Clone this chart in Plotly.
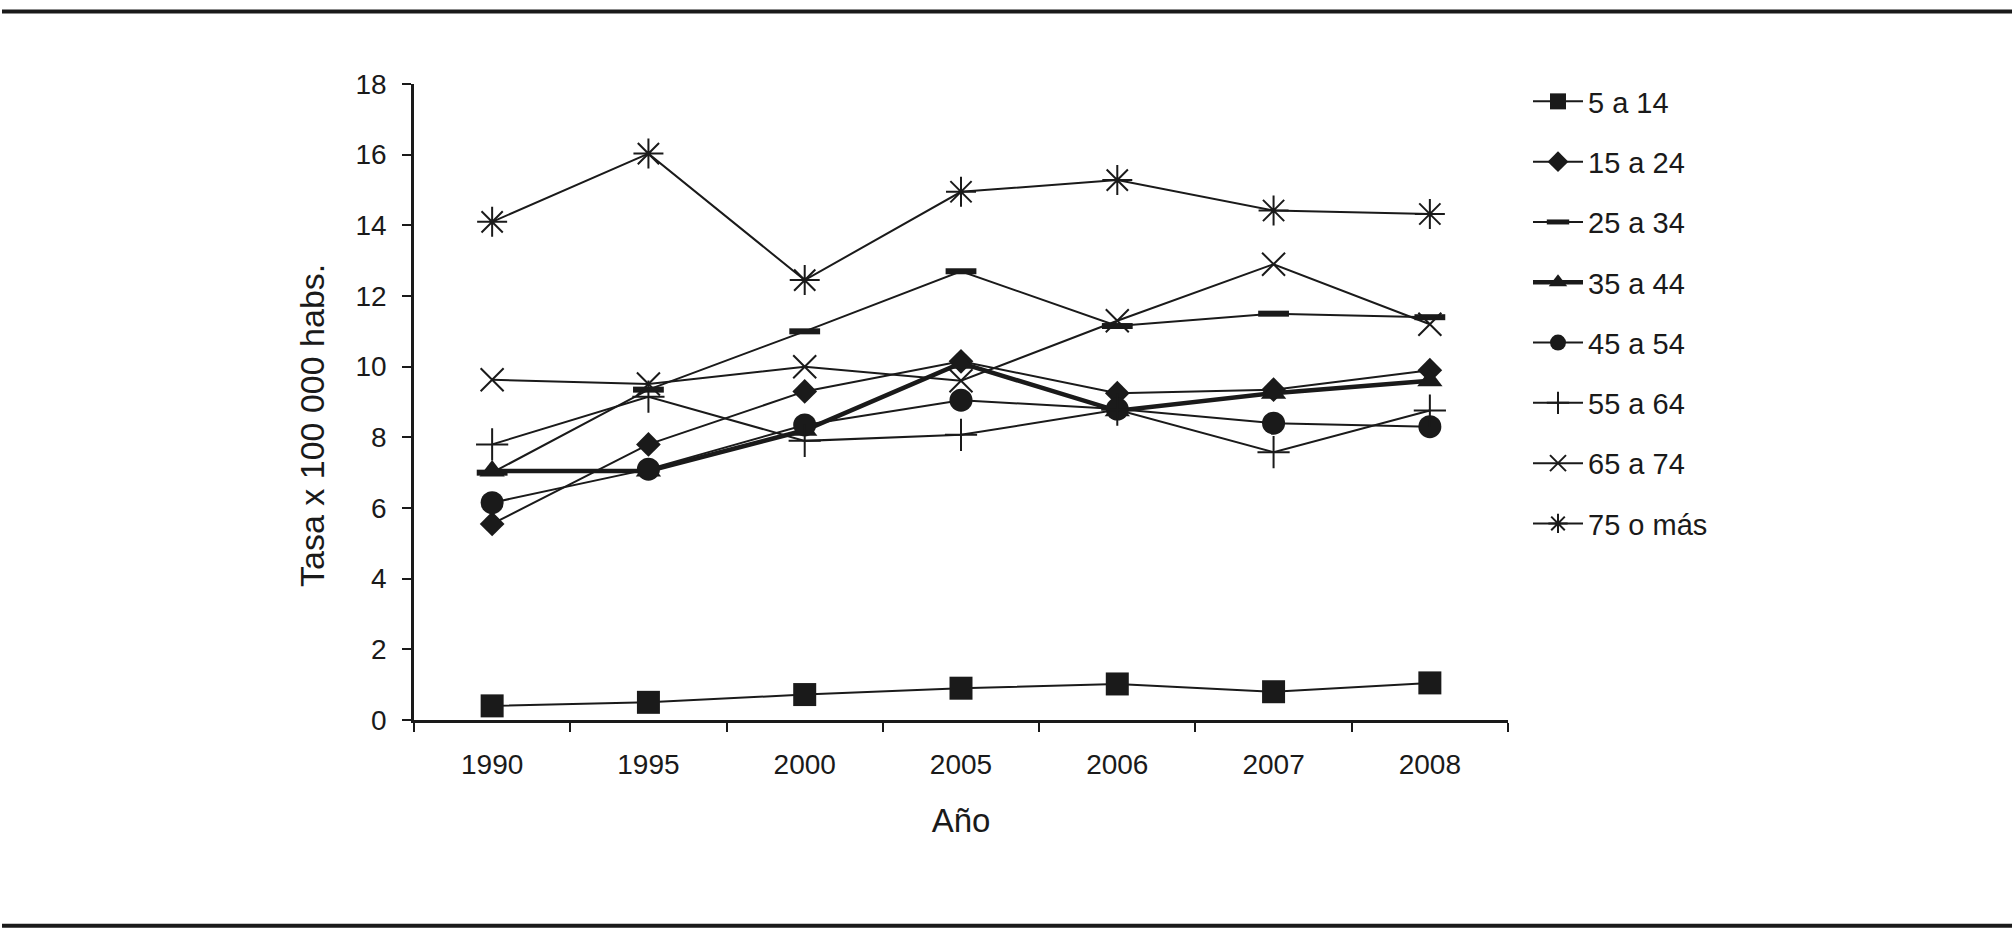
import plotly.graph_objects as go

years = ["1990", "1995", "2000", "2005", "2006", "2007", "2008"]
series_names = ["5 a 14", "15 a 24", "25 a 34", "35 a 44", "45 a 54", "55 a 64", "65 a 74", "75 o más"]
s5_14 = [0.4, 0.5, 0.72, 0.9, 1.02, 0.8, 1.05]
s15_24 = [5.55, 7.8, 9.3, 10.15, 9.25, 9.35, 9.9]
s25_34 = [7.0, 9.35, 11.0, 12.7, 11.15, 11.5, 11.4]
s35_44 = [7.05, 7.05, 8.2, 10.1, 8.75, 9.25, 9.6]
s45_54 = [6.15, 7.1, 8.35, 9.05, 8.8, 8.4, 8.3]
s55_64 = [7.8, 9.15, 7.9, 8.07, 8.78, 7.58, 8.76]
s65_74 = [9.63, 9.51, 10.0, 9.6, 11.3, 12.9, 11.2]
s75_mas = [14.1, 16.03, 12.45, 14.95, 15.28, 14.42, 14.32]
values = [s5_14, s15_24, s25_34, s35_44, s45_54, s55_64, s65_74, s75_mas]

styles = [
    dict(symbol="square", size=23, mlw=0, lw=2),
    dict(symbol="diamond", size=19, mlw=0, lw=2),
    dict(symbol="line-ew", size=22, mlw=6, lw=2),
    dict(symbol="triangle-up", size=22, mlw=0, lw=4.5),
    dict(symbol="circle", size=23, mlw=0, lw=2),
    dict(symbol="cross-thin", size=23, mlw=2, lw=2),
    dict(symbol="x-thin", size=23, mlw=2, lw=2),
    dict(symbol="asterisk", size=25, mlw=2, lw=2),
]

FONT = "Liberation Sans, Arial, Helvetica, sans-serif"
INK = "#1a1a1a"

fig = go.Figure()
for name, vals, st in zip(series_names, values, styles):
    fig.add_trace(go.Scatter(
        x=years, y=vals, name=name, mode="lines+markers",
        legendgroup=name,
        line=dict(color=INK, width=st["lw"]),
        marker=dict(symbol=st["symbol"], size=st["size"], color=INK,
                    line=dict(color=INK, width=st["mlw"])),
    ))

L, R, T, B = 414, 1508, 83.5, 720.5
W, H = 2014, 938
pw, ph = R - L, B - T

def px(xp):
    return (xp - L) / pw

def py(yp):
    return (B - yp) / ph

fig.update_layout(
    width=W, height=H,
    margin=dict(l=L, r=W - R, t=T, b=H - B, pad=0),
    paper_bgcolor="white", plot_bgcolor="white",
    font=dict(family=FONT, color=INK, size=28),
    showlegend=True,
    legend=dict(
        x=px(1528), y=py(75.5), xanchor="left", yanchor="top",
        font=dict(family=FONT, size=29, color=INK),
        tracegroupgap=19.6, itemwidth=50, bgcolor="rgba(0,0,0,0)",
        maxheight=900,
    ),
    xaxis=dict(
        type="category", range=[-0.5, 6.5], tickson="boundaries",
        ticks="outside", ticklen=9, tickwidth=2, tickcolor=INK,
        showline=True, linecolor=INK, linewidth=2.5,
        showgrid=False, zeroline=False,
        tickfont=dict(size=28), ticklabelstandoff=18,
        title=dict(text="Año", font=dict(size=33), standoff=30),
    ),
    yaxis=dict(
        range=[0, 18], dtick=2, tick0=0,
        ticks="outside", ticklen=9, tickwidth=2, tickcolor=INK,
        showline=True, linecolor=INK, linewidth=2.5,
        showgrid=False, zeroline=False,
        tickfont=dict(size=28), ticklabelstandoff=10,
    ),
    annotations=[
        dict(text="Tasa x 100 000 habs.", xref="paper", yref="paper",
             x=px(312), y=py(426), xanchor="center", yanchor="middle",
             textangle=-90, showarrow=False,
             font=dict(family=FONT, size=34, color=INK)),
    ],
    shapes=[
        dict(type="line", xref="paper", yref="paper", x0=px(2), x1=px(2012),
             y0=py(11), y1=py(11), line=dict(color=INK, width=4)),
        dict(type="line", xref="paper", yref="paper", x0=px(2), x1=px(2012),
             y0=py(926.5), y1=py(926.5), line=dict(color=INK, width=4)),
    ],
)

fig.write_html("out.html", config={"displayModeBar": False},
               post_script="document.body.style.margin='0px';")
